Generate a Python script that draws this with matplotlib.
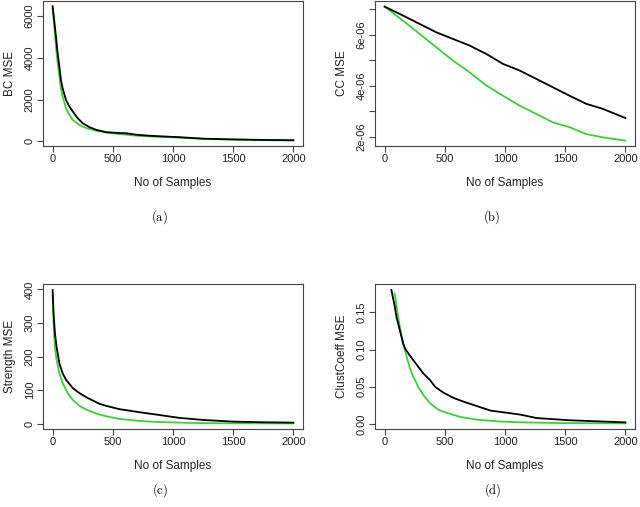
import numpy as np
import matplotlib.pyplot as plt

plt.rcParams['font.family'] = ['Liberation Sans', 'DejaVu Sans']
plt.rcParams['mathtext.fontset'] = 'cm'

# (a) BC MSE
bc_x_black = [0, 28, 42, 56, 69, 83, 111, 139, 167, 208, 250, 306, 361, 444, 556, 611, 694, 806, 944,
              1056, 1250, 1500, 1750, 2000]
bc_y_black = [6460, 5000, 4200, 3570, 2940, 2540, 1980, 1670, 1430, 1110, 870, 680, 555, 440, 400, 390,
              320, 270, 230, 200, 130, 95, 70, 55]
bc_x_green = [0, 28, 42, 56, 69, 83, 111, 139, 167, 222, 278, 361, 444, 556, 722, 1056, 1250, 1500, 1750, 2000]
bc_y_green = [6350, 4520, 3730, 3100, 2540, 2140, 1590, 1270, 1030, 790, 635, 510, 430, 350, 260, 180, 120,
              85, 60, 45]

# (b) CC MSE
cc_x = [0, 152, 290, 429, 567, 705, 844, 982, 1120, 1259, 1397, 1535, 1674, 1812, 2000]
cc_y_black = [7.11, 6.76, 6.43, 6.10, 5.84, 5.58, 5.25, 4.86, 4.60, 4.27, 3.94, 3.61, 3.29, 3.09, 2.73]
cc_y_green = [7.11, 6.56, 6.04, 5.51, 4.99, 4.53, 4.01, 3.61, 3.22, 2.89, 2.56, 2.37, 2.10, 1.97, 1.84]

# (c) Strength MSE
st_x_black = [0, 8, 19, 33, 56, 83, 111, 167, 222, 278, 333, 389, 444, 556, 722, 861, 1056, 1250, 1500, 1750,
              2000]
st_y_black = [398, 328, 269, 229, 180, 150, 131, 106, 91, 79, 69, 59, 53, 43, 34, 27, 17, 11, 6, 4, 3]
st_x_green = [0, 8, 19, 33, 56, 83, 125, 167, 222, 278, 361, 444, 556, 722, 861, 1056, 1250, 1500, 2000]
st_y_green = [383, 299, 229, 190, 150, 121, 91, 71, 53, 42, 30, 22, 14, 8, 5, 3, 1.5, 1, 0.5]

# (d) ClustCoeff MSE
cl_x_black = [56, 70, 84, 98, 112, 126, 140, 154, 168, 196, 237, 279, 321, 377, 419, 489, 573, 656, 768, 880,
              1020, 1131, 1262, 1540, 2000]
cl_y_black = [0.180, 0.169, 0.158, 0.144, 0.135, 0.126, 0.117, 0.108, 0.102, 0.095, 0.086, 0.077, 0.068, 0.059,
              0.050, 0.042, 0.035, 0.030, 0.024, 0.018, 0.015, 0.0125, 0.008, 0.005, 0.0022]
cl_x_green = [84, 98, 112, 126, 154, 182, 210, 237, 279, 321, 377, 447, 517, 629, 768, 936, 1131, 1500, 2000]
cl_y_green = [0.175, 0.160, 0.144, 0.131, 0.108, 0.091, 0.075, 0.064, 0.050, 0.039, 0.028, 0.019, 0.015,
              0.0094, 0.0058, 0.0036, 0.0022, 0.0012, 0.0009]

green = '#3fcc3f'
gray = '#444444'

fig = plt.figure(figsize=(6.4, 5.07), dpi=100)
W, H = 640, 507


def make_ax(x0, x1, y0, y1):
    return fig.add_axes([x0 / W, 1 - y1 / H, (x1 - x0) / W, (y1 - y0) / H])


def style(ax, ylabel, yticks, ylabels, ylim):
    ax.set_xlim(-80, 2080)
    ax.set_ylim(*ylim)
    ax.set_xticks([0, 500, 1000, 1500, 2000])
    ax.set_yticks(yticks)
    ax.set_yticklabels(ylabels, rotation=90, va='center')
    ax.tick_params(labelsize=8, colors=gray, labelcolor='#222222', length=4, width=0.8, pad=2)
    for s in ax.spines.values():
        s.set_color(gray)
        s.set_linewidth(0.8)
    ax.set_xlabel('No of Samples', fontsize=8.5, color='#222222', labelpad=9)
    ax.set_ylabel(ylabel, fontsize=8.5, color='#222222', labelpad=6)


ax = make_ax(43, 303, 1, 146)
ax.plot(bc_x_green, bc_y_green, color=green, lw=1.3)
ax.plot(bc_x_black, bc_y_black, color='black', lw=1.3)
style(ax, 'BC MSE', [0, 2000, 4000, 6000], ['0', '2000', '4000', '6000'], (-220, 6710))

ax = make_ax(375, 635, 1, 146)
ax.plot(cc_x, np.array(cc_y_green) * 1e-6, color=green, lw=1.3)
ax.plot(cc_x, np.array(cc_y_black) * 1e-6, color='black', lw=1.3)
style(ax, 'CC MSE', [2e-6, 3e-6, 4e-6, 5e-6, 6e-6, 7e-6],
      ['2e-06', '', '4e-06', '', '6e-06', ''], (1.63e-6, 7.33e-6))

ax = make_ax(43, 303, 284, 429)
ax.plot(st_x_green, st_y_green, color=green, lw=1.3)
ax.plot(st_x_black, st_y_black, color='black', lw=1.3)
style(ax, 'Strength MSE', [0, 100, 200, 300, 400], ['0', '100', '200', '300', '400'], (-16, 416))

ax = make_ax(375, 635, 284, 429)
ax.plot(cl_x_green, cl_y_green, color=green, lw=1.3)
ax.plot(cl_x_black, cl_y_black, color='black', lw=1.3)
style(ax, 'ClustCoeff MSE', [0, 0.05, 0.10, 0.15], ['0.00', '0.05', '0.10', '0.15'], (-0.0067, 0.188))

for lab, x, y in [('a', 159, 217), ('b', 492, 217), ('c', 160, 490), ('d', 493, 490)]:
    fig.text(x / W, 1 - y / H, r'$\mathrm{(' + lab + ')}$', fontsize=9, ha='center', va='center')

fig.savefig('out.png', dpi=100)
